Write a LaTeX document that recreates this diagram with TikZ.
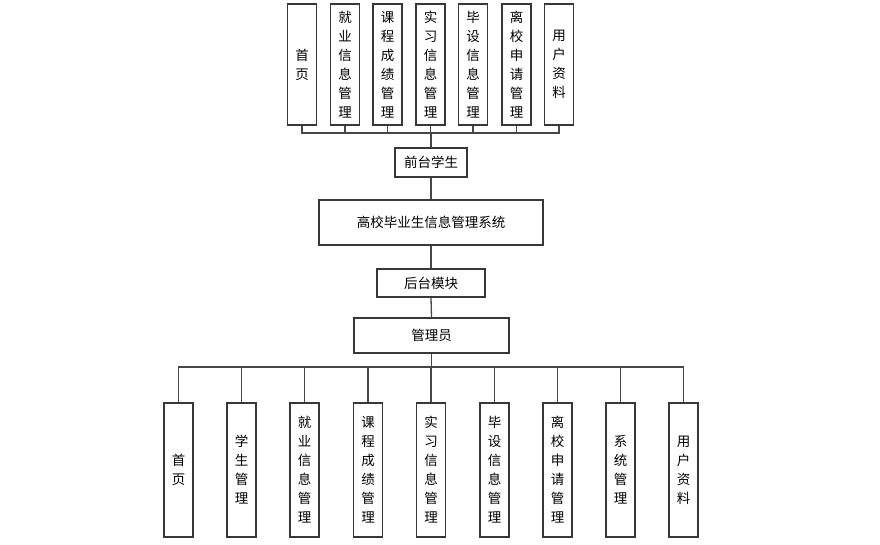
\documentclass[tikz,border=0pt]{standalone}
\usepackage{fontspec}
\setmainfont{Noto Sans CJK SC}
\begin{document}
\begin{tikzpicture}[x=1pt,y=-1pt,
  box/.style={draw=black!78,line width=1.2pt,fill=white,inner sep=0pt,align=center,
    font={\fontsize{13.5}{19}\selectfont}},
  vbox/.style={box,minimum width=29pt},
  topv/.style={vbox,minimum height=121pt},
  botv/.style={vbox,minimum height=134pt},
  conn/.style={draw=black!72,line width=1.3pt}]
\useasboundingbox (0,0) rectangle (880,545);
% top row
\node[topv] (t1) at (302,64.5) {首\\页};
\node[topv] (t2) at (345,64.5) {就\\业\\信\\息\\管\\理};
\node[topv] (t3) at (387.5,64.5) {课\\程\\成\\绩\\管\\理};
\node[topv] (t4) at (430.5,64.5) {实\\习\\信\\息\\管\\理};
\node[topv] (t5) at (473,64.5) {毕\\设\\信\\息\\管\\理};
\node[topv] (t6) at (516.5,64.5) {离\\校\\申\\请\\管\\理};
\node[topv] (t7) at (559,64.5) {用\\户\\资\\料};
\coordinate (tb) at (431,133);
% middle
\node[box,minimum width=72pt,minimum height=29pt] (qt) at (431,162.5) {前台学生};
\node[box,minimum width=224pt,minimum height=45pt] (sys) at (431,222.5) {高校毕业生信息管理系统};
\node[box,minimum width=108pt,minimum height=28pt] (ht) at (431,283) {后台模块};
\node[box,minimum width=155pt,minimum height=35pt] (gly) at (431.5,335.5) {管理员};
\coordinate (bb) at (431,367);
% bottom row
\node[botv] (b1) at (178.5,470) {首\\页};
\node[botv] (b2) at (241.5,470) {学\\生\\管\\理};
\node[botv] (b3) at (304.5,470) {就\\业\\信\\息\\管\\理};
\node[botv] (b4) at (368,470) {课\\程\\成\\绩\\管\\理};
\node[botv] (b5) at (431,470) {实\\习\\信\\息\\管\\理};
\node[botv] (b6) at (494.5,470) {毕\\设\\信\\息\\管\\理};
\node[botv] (b7) at (557.5,470) {离\\校\\申\\请\\管\\理};
\node[botv] (b8) at (620.5,470) {系\\统\\管\\理};
\node[botv] (b9) at (683.5,470) {用\\户\\资\\料};
% connectors
\foreach \n in {t1,t2,t3,t4,t5,t6,t7} \draw[conn] (\n.south) |- (tb);
\draw[conn] (tb) -- (qt.north);
\draw[conn] (qt.south) -- (sys.north);
\draw[conn] (sys.south) -- (ht.north);
\draw[conn] (ht.south) -- (gly.north);
\draw[conn] (gly.south) |- (bb);
\foreach \n in {b1,b2,b3,b4,b5,b6,b7,b8,b9} \draw[conn] (bb) -| (\n.north);
\end{tikzpicture}
\end{document}
